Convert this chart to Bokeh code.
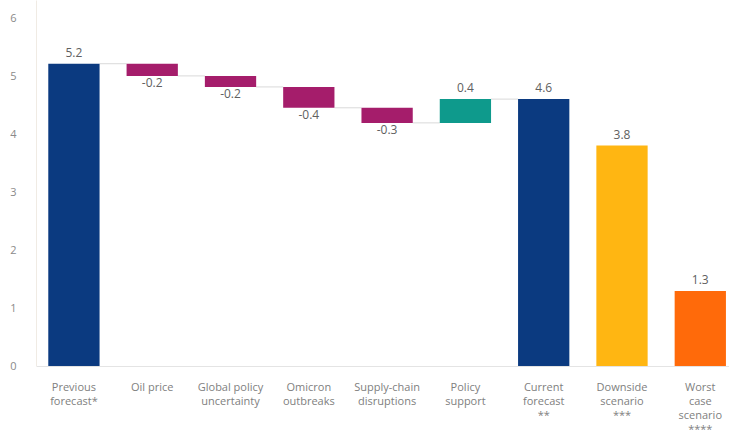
from bokeh.plotting import figure
from bokeh.models import ColumnDataSource, Range1d, FixedTicker, Span
from bokeh.embed import file_html
from bokeh.resources import INLINE
from bokeh.core.properties import value

# ---- data ----
categories = [
    "Previous\nforecast*", "Oil price", "Global policy\nuncertainty",
    "Omicron\noutbreaks", "Supply-chain\ndisruptions", "Policy\nsupport",
    "Current\nforecast\n**", "Downside\nscenario\n***", "Worst\ncase\nscenario\n****",
]
values = [5.22, -0.21, -0.19, -0.36, -0.26, 0.41, 4.61, 3.81, 1.30]
kinds = ["total", "delta", "delta", "delta", "delta", "delta", "total", "total", "total"]
y_ticks = [0, 1, 2, 3, 4, 5, 6]

# ---- styles ----
bar_colors = ["#0b3a80", "#a51d6b", "#a51d6b", "#a51d6b", "#a51d6b",
              "#0e9a8c", "#0b3a80", "#ffb612", "#ff6a0a"]
FONT = value("Open Sans")
W = 0.655

# ---- waterfall geometry from values ----
idx = list(range(len(categories)))
bottoms, tops, ends = [], [], []
level = 0.0
for v, k in zip(values, kinds):
    if k == "total":
        b, t = 0.0, v
        level = v
    else:
        b, t = min(level, level + v), max(level, level + v)
        level = level + v
    bottoms.append(b)
    tops.append(t)
    ends.append(level)

labels = [f"{v:.1f}" for v in values]

src = ColumnDataSource(dict(x=idx, bottom=bottoms, top=tops, color=bar_colors, label=labels))

pos = [i for i, v in enumerate(values) if v >= 0]
neg = [i for i, v in enumerate(values) if v < 0]
pos_src = ColumnDataSource(dict(x=[idx[i] for i in pos], y=[tops[i] for i in pos],
                                label=[labels[i] for i in pos]))
neg_src = ColumnDataSource(dict(x=[idx[i] for i in neg], y=[bottoms[i] for i in neg],
                                label=[labels[i] for i in neg]))

# connectors between consecutive waterfall bars (previous forecast -> current forecast)
cx0, cx1, cy = [], [], []
for i in range(6):
    cx0.append(idx[i] + W / 2)
    cx1.append(idx[i + 1] - W / 2)
    cy.append(ends[i])

p = figure(width=729, height=432,
           x_range=Range1d(-0.478, 8.373), y_range=Range1d(-1.138, 6.31),
           output_backend="svg", toolbar_location=None, x_axis_location=None,
           min_border_left=36, min_border_right=0, min_border_top=0, min_border_bottom=0)
p.outline_line_color = None
p.xgrid.visible = False
p.ygrid.visible = False
p.background_fill_color = "white"

p.yaxis.ticker = FixedTicker(ticks=y_ticks)
p.yaxis.bounds = (0, 6.31)
p.yaxis.axis_line_color = "#f0ebe4"
p.yaxis.major_tick_line_color = None
p.yaxis.minor_tick_line_color = None
p.yaxis.major_label_standoff = 14
p.yaxis.major_label_text_font = "Open Sans"
p.yaxis.major_label_text_font_size = "11px"
p.yaxis.major_label_text_color = "#8a8a8a"

p.add_layout(Span(location=0, dimension="width", line_color="#e4e4e4", line_width=1))

p.segment(x0=cx0, y0=cy, x1=cx1, y1=cy, line_color="#d9d9d9", line_width=1)

p.vbar(x="x", bottom="bottom", top="top", width=W, fill_color="color",
       line_color=None, source=src)

p.text(x="x", y="y", text="label", source=pos_src, text_align="center",
       text_baseline="bottom", y_offset=-7, text_font=FONT, text_font_size="12px",
       text_color="#606060")
p.text(x="x", y="y", text="label", source=neg_src, text_align="center",
       text_baseline="top", y_offset=2, text_font=FONT, text_font_size="12px",
       text_color="#606060")

p.text(x=idx, y=[-0.224] * len(idx), text=categories, text_align="center",
       text_baseline="top", text_font=FONT, text_font_size="11px",
       text_color="#808080", text_line_height=0.92)

open("out.html", "w").write(file_html(p, INLINE))
